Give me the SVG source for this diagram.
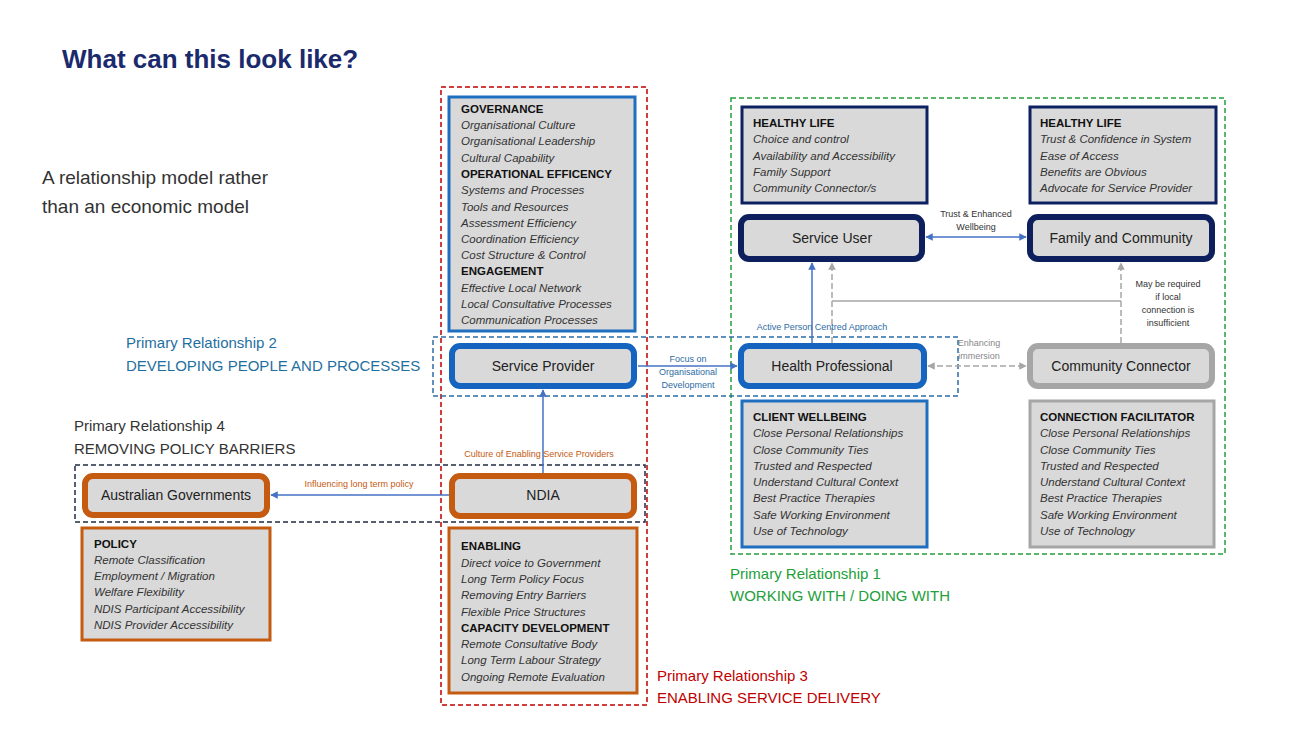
<svg xmlns="http://www.w3.org/2000/svg" width="1300" height="731" viewBox="0 0 1300 731">
<defs>
<marker id="ab" viewBox="0 0 10 10" refX="9" refY="5" markerWidth="5" markerHeight="5" orient="auto-start-reverse"><path d="M0,0L10,5L0,10z" fill="#4472c4"/></marker>
<marker id="ag" viewBox="0 0 10 10" refX="9" refY="5" markerWidth="5" markerHeight="5" orient="auto-start-reverse"><path d="M0,0L10,5L0,10z" fill="#a6a6a6"/></marker>
</defs>
<style>
text{font-family:"Liberation Sans",Arial,sans-serif;fill:#333}
.it{font-style:italic;font-size:11.5px}
.hd{font-weight:bold;font-size:11.5px;fill:#111}
.nd{font-size:14px;text-anchor:middle;fill:#222}
.sm{font-size:9px;text-anchor:middle}
.box{fill:#d9d9d9;stroke-width:3}
.node{fill:#d9d9d9;stroke-width:6}
.pr{font-size:15px}
</style>
<rect width="1300" height="731" fill="#fff"/>
<text x="62" y="68" font-size="26" font-weight="bold" style="fill:#1a2a6c">What can this look like?</text>
<text x="42" y="184" font-size="19">A relationship model rather</text>
<text x="42" y="213" font-size="19">than an economic model</text>

<g fill="none" stroke-width="1.5" stroke-dasharray="5,3">
<rect x="441" y="87" width="206" height="618" stroke="#c00000"/>
<rect x="731" y="98" width="494" height="456" stroke="#22a03a"/>
<rect x="433" y="337" width="525" height="59" stroke="#2e6ca4"/>
<rect x="75" y="465" width="570" height="57" stroke="#1f2a44"/>
</g>

<g id="connectors" fill="none" stroke-width="1.5">
<line x1="926" y1="237" x2="1026" y2="237" stroke="#4472c4" marker-start="url(#ab)" marker-end="url(#ab)"/>
<line x1="812" y1="343" x2="812" y2="263" stroke="#4472c4" marker-end="url(#ab)"/>
<line x1="832" y1="343" x2="832" y2="263" stroke="#a6a6a6" stroke-dasharray="6,3" marker-end="url(#ag)"/>
<line x1="832" y1="301" x2="1121" y2="301" stroke="#a6a6a6"/>
<line x1="1121" y1="343" x2="1121" y2="263" stroke="#a6a6a6" stroke-dasharray="6,3" marker-end="url(#ag)"/>
<line x1="928" y1="366" x2="1026" y2="366" stroke="#a6a6a6" stroke-dasharray="6,3" marker-start="url(#ag)" marker-end="url(#ag)"/>
<line x1="638" y1="366" x2="737" y2="366" stroke="#4472c4" marker-end="url(#ab)"/>
<line x1="449" y1="495" x2="271" y2="495" stroke="#4472c4" marker-end="url(#ab)"/>
<line x1="543" y1="473" x2="543" y2="390" stroke="#4472c4" marker-end="url(#ab)"/>
<g class="lbl">
<text class="sm" x="976" y="217">Trust &amp; Enhanced</text>
<text class="sm" x="976" y="230">Wellbeing</text>
<text class="sm" x="1168" y="287">May be required</text>
<text class="sm" x="1168" y="300">if local</text>
<text class="sm" x="1168" y="313">connection is</text>
<text class="sm" x="1168" y="326">insufficient</text>
<text class="sm" x="822" y="330" style="fill:#2e6ca4">Active Person Centred Approach</text>
<text class="sm" x="979" y="346" style="fill:#888">Enhancing</text>
<text class="sm" x="979" y="359" style="fill:#888">immersion</text>
<text class="sm" x="688" y="362" style="fill:#2e6ca4">Focus on</text>
<text class="sm" x="688" y="375" style="fill:#2e6ca4">Organisational</text>
<text class="sm" x="688" y="388" style="fill:#2e6ca4">Development</text>
<text class="sm" x="359" y="487" style="fill:#c55a11">Influencing long term policy</text>
<text class="sm" x="539" y="457" style="fill:#c55a11">Culture of Enabling Service Providers</text>
</g>
</g>

<g id="governance">
<rect class="box" x="449" y="97" width="186" height="234" stroke="#1f6fc0"/>
<text class="hd" x="461" y="113">GOVERNANCE</text>
<text class="it" x="461" y="129">Organisational Culture</text>
<text class="it" x="461" y="145">Organisational Leadership</text>
<text class="it" x="461" y="162">Cultural Capability</text>
<text class="hd" x="461" y="178">OPERATIONAL EFFICENCY</text>
<text class="it" x="461" y="194">Systems and Processes</text>
<text class="it" x="461" y="211">Tools and Resources</text>
<text class="it" x="461" y="227">Assessment Efficiency</text>
<text class="it" x="461" y="243">Coordination Efficiency</text>
<text class="it" x="461" y="259">Cost Structure &amp; Control</text>
<text class="hd" x="461" y="275">ENGAGEMENT</text>
<text class="it" x="461" y="292">Effective Local Network</text>
<text class="it" x="461" y="308">Local Consultative Processes</text>
<text class="it" x="461" y="324">Communication Processes</text>
</g>

<g id="healthy-life-1">
<rect class="box" x="742" y="107" width="185" height="96" stroke="#0d2060"/>
<text class="hd" x="753" y="127">HEALTHY LIFE</text>
<text class="it" x="753" y="143">Choice and control</text>
<text class="it" x="753" y="160">Availability and Accessibility</text>
<text class="it" x="753" y="176">Family Support</text>
<text class="it" x="753" y="192">Community Connector/s</text>
</g>
<g id="healthy-life-2">
<rect class="box" x="1030" y="107" width="186" height="96" stroke="#0d2060"/>
<text class="hd" x="1040" y="127">HEALTHY LIFE</text>
<text class="it" x="1040" y="143">Trust &amp; Confidence in System</text>
<text class="it" x="1040" y="160">Ease of Access</text>
<text class="it" x="1040" y="176">Benefits are Obvious</text>
<text class="it" x="1040" y="192">Advocate for Service Provider</text>
</g>

<g id="service-user"><rect class="node" x="741" y="217" width="181" height="42" rx="8" stroke="#0d1f5c"/><text class="nd" x="832" y="243">Service User</text></g>
<g id="family-community"><rect class="node" x="1030" y="217" width="182" height="42" rx="8" stroke="#0d1f5c"/><text class="nd" x="1121" y="243">Family and Community</text></g>
<g id="service-provider"><rect class="node" x="452" y="346" width="182" height="40" rx="8" stroke="#1565c0"/><text class="nd" x="543" y="371">Service Provider</text></g>
<g id="health-professional"><rect class="node" x="741" y="346" width="183" height="40" rx="8" stroke="#1565c0"/><text class="nd" x="832" y="371">Health Professional</text></g>
<g id="community-connector"><rect class="node" x="1030" y="346" width="182" height="40" rx="8" stroke="#a6a6a6"/><text class="nd" x="1121" y="371">Community Connector</text></g>
<g id="ndia"><rect class="node" x="452" y="476" width="182" height="40" rx="8" stroke="#c55a11"/><text class="nd" x="543" y="500">NDIA</text></g>
<g id="australian-governments"><rect class="node" x="85" y="476" width="182" height="39" rx="8" stroke="#c55a11"/><text class="nd" x="176" y="500">Australian Governments</text></g>

<g id="client-wellbeing">
<rect class="box" x="742" y="401" width="185" height="146" stroke="#1f6fc0"/>
<text class="hd" x="753" y="421">CLIENT WELLBEING</text>
<text class="it" x="753" y="437">Close Personal Relationships</text>
<text class="it" x="753" y="454">Close Community Ties</text>
<text class="it" x="753" y="470">Trusted and Respected</text>
<text class="it" x="753" y="486">Understand Cultural Context</text>
<text class="it" x="753" y="502">Best Practice Therapies</text>
<text class="it" x="753" y="519">Safe Working Environment</text>
<text class="it" x="753" y="535">Use of Technology</text>
</g>
<g id="connection-facilitator">
<rect class="box" x="1030" y="401" width="184" height="146" stroke="#a6a6a6"/>
<text class="hd" x="1040" y="421">CONNECTION FACILITATOR</text>
<text class="it" x="1040" y="437">Close Personal Relationships</text>
<text class="it" x="1040" y="454">Close Community Ties</text>
<text class="it" x="1040" y="470">Trusted and Respected</text>
<text class="it" x="1040" y="486">Understand Cultural Context</text>
<text class="it" x="1040" y="502">Best Practice Therapies</text>
<text class="it" x="1040" y="519">Safe Working Environment</text>
<text class="it" x="1040" y="535">Use of Technology</text>
</g>
<g id="policy">
<rect class="box" x="82" y="528" width="188" height="112" stroke="#c55a11"/>
<text class="hd" x="94" y="548">POLICY</text>
<text class="it" x="94" y="564">Remote Classification</text>
<text class="it" x="94" y="580">Employment / Migration</text>
<text class="it" x="94" y="596">Welfare Flexibility</text>
<text class="it" x="94" y="613">NDIS Participant Accessibility</text>
<text class="it" x="94" y="629">NDIS Provider Accessibility</text>
</g>
<g id="enabling">
<rect class="box" x="449" y="528" width="188" height="165" stroke="#c55a11"/>
<text class="hd" x="461" y="550">ENABLING</text>
<text class="it" x="461" y="567">Direct voice to Government</text>
<text class="it" x="461" y="583">Long Term Policy Focus</text>
<text class="it" x="461" y="599">Removing Entry Barriers</text>
<text class="it" x="461" y="616">Flexible Price Structures</text>
<text class="hd" x="461" y="632">CAPACITY DEVELOPMENT</text>
<text class="it" x="461" y="648">Remote Consultative Body</text>
<text class="it" x="461" y="664">Long Term Labour Strategy</text>
<text class="it" x="461" y="681">Ongoing Remote Evaluation</text>
</g>

<text class="pr" x="126" y="348" style="fill:#1f6fa0">Primary Relationship 2</text>
<text class="pr" x="126" y="371" style="fill:#1f6fa0">DEVELOPING PEOPLE AND PROCESSES</text>
<text class="pr" x="74" y="431">Primary Relationship 4</text>
<text class="pr" x="74" y="454">REMOVING POLICY BARRIERS</text>
<text class="pr" x="730" y="579" style="fill:#22a03a">Primary Relationship 1</text>
<text class="pr" x="730" y="601" style="fill:#22a03a">WORKING WITH / DOING WITH</text>
<text class="pr" x="657" y="681" style="fill:#c00000">Primary Relationship 3</text>
<text class="pr" x="657" y="703" style="fill:#c00000">ENABLING SERVICE DELIVERY</text>
</svg>
